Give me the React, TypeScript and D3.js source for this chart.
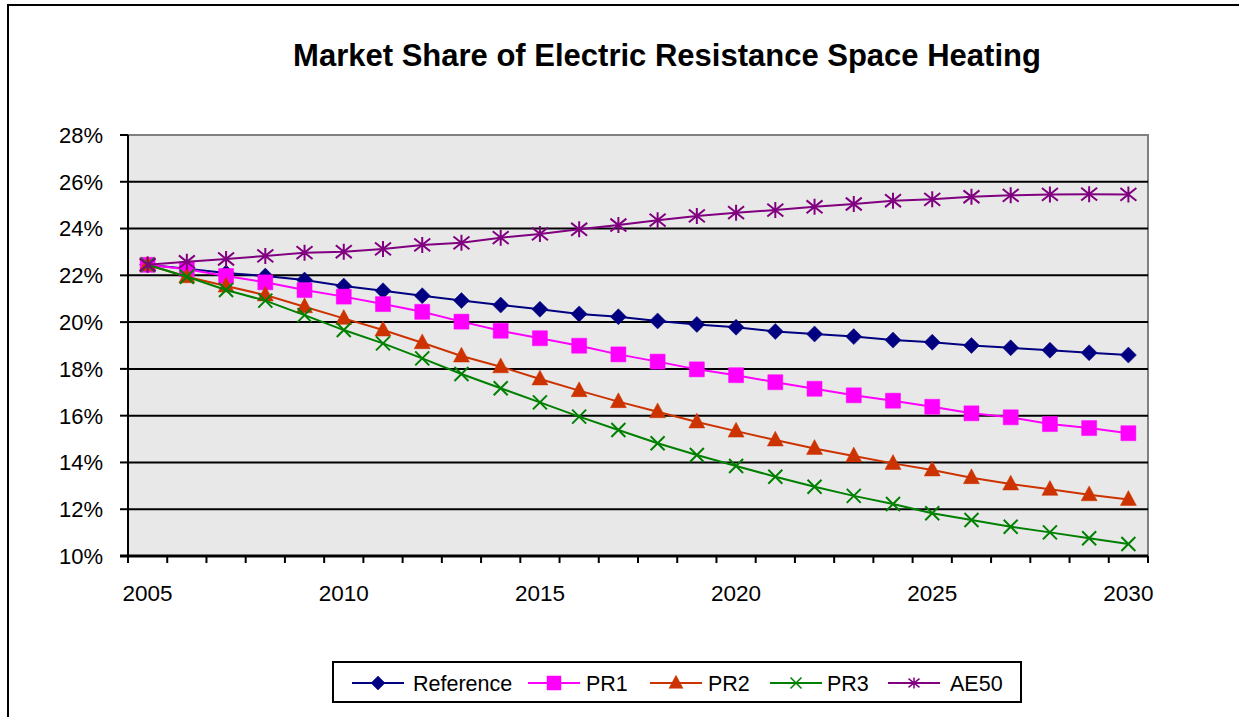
import React from "react";
import * as d3 from "d3";

// categories
const years = [
  2005, 2006, 2007, 2008, 2009, 2010, 2011, 2012, 2013, 2014, 2015, 2016, 2017,
  2018, 2019, 2020, 2021, 2022, 2023, 2024, 2025, 2026, 2027, 2028, 2029, 2030,
];
const yearLabels = [2005, 2010, 2015, 2020, 2025, 2030];
const yTicks = [10, 12, 14, 16, 18, 20, 22, 24, 26, 28];

// market share, %
const reference = [22.45, 22.28, 22.1, 21.97, 21.8, 21.54, 21.34, 21.13, 20.92, 20.73, 20.55, 20.35, 20.23, 20.05, 19.9, 19.78, 19.6, 19.49, 19.38, 19.23, 19.14, 19.0, 18.9, 18.8, 18.69, 18.59];
const pr1 = [22.45, 22.26, 21.97, 21.7, 21.37, 21.09, 20.77, 20.44, 20.02, 19.63, 19.31, 18.99, 18.62, 18.31, 17.98, 17.73, 17.43, 17.15, 16.87, 16.64, 16.38, 16.1, 15.93, 15.64, 15.47, 15.25];
const pr2 = [22.45, 21.94, 21.54, 21.16, 20.66, 20.16, 19.66, 19.12, 18.55, 18.09, 17.57, 17.07, 16.6, 16.17, 15.73, 15.34, 14.96, 14.6, 14.28, 13.96, 13.68, 13.35, 13.08, 12.85, 12.62, 12.42];
const pr3 = [22.45, 21.94, 21.37, 20.92, 20.3, 19.66, 19.09, 18.45, 17.78, 17.17, 16.57, 15.96, 15.39, 14.82, 14.32, 13.85, 13.39, 12.96, 12.57, 12.22, 11.83, 11.54, 11.25, 11.01, 10.76, 10.51];
const ae50 = [22.45, 22.58, 22.7, 22.83, 22.97, 23.01, 23.13, 23.3, 23.39, 23.61, 23.77, 23.97, 24.15, 24.36, 24.54, 24.68, 24.79, 24.93, 25.05, 25.19, 25.25, 25.36, 25.42, 25.46, 25.47, 25.46];

const series = [
  { name: "Reference", values: reference, color: "#000080", marker: "diamond" },
  { name: "PR1", values: pr1, color: "#FF00FF", marker: "square" },
  { name: "PR2", values: pr2, color: "#CC3300", marker: "triangle" },
  { name: "PR3", values: pr3, color: "#008000", marker: "x" },
  { name: "AE50", values: ae50, color: "#800080", marker: "asterisk" },
];

const font = "'Liberation Sans', Arial, sans-serif";
const W = 1239;
const H = 717;
const plot = { left: 128, right: 1148, top: 135, bottom: 556 };

// marker path centred on 0,0; r = half size
function markerPath(type: string, r: number) {
  if (type === "diamond") return `M0,${-r}L${r},0L0,${r}L${-r},0Z`;
  if (type === "square") return `M${-r},${-r}H${r}V${r}H${-r}Z`;
  if (type === "triangle")
    return `M0,${-r * 1.1}L${r},${r * 0.75}L${-r},${r * 0.75}Z`;
  if (type === "x") return `M${-r},${-r}L${r},${r}M${-r},${r}L${r},${-r}`;
  // asterisk: x plus vertical bar
  return `M${-r},${-r * 0.8}L${r},${r * 0.8}M${-r},${r * 0.8}L${r},${-r * 0.8}M0,${-r}V${r}`;
}

const filled = (t: string) => t === "diamond" || t === "square" || t === "triangle";

const markerSize: Record<string, number> = {
  diamond: 8,
  square: 7.5,
  triangle: 8,
  x: 7,
  asterisk: 8,
};

const legendItems = [
  { x: 352, text: 413 },
  { x: 528, text: 586 },
  { x: 650, text: 708 },
  { x: 770, text: 827 },
  { x: 888, text: 950 },
];

export default function App() {
  const xBand = d3
    .scaleBand<number>()
    .domain(years)
    .range([plot.left, plot.right])
    .padding(0);
  const xc = (yr: number) => (xBand(yr) as number) + xBand.bandwidth() / 2;
  const y = d3.scaleLinear().domain([10, 28]).range([plot.bottom, plot.top]);

  const line = d3
    .line<number>()
    .x((_, i) => xc(years[i]))
    .y((d) => y(d));

  const tickXs = years.map((yr) => xBand(yr) as number).concat([plot.right]);

  return (
    <svg
      width={W}
      height={H}
      style={{ position: "absolute", left: 0, top: 0, background: "#fff" }}
      fontFamily={font}
    >
      {/* outer chart border */}
      <rect x={8} y={5} width={W + 20} height={H + 20} fill="none" stroke="#000" strokeWidth={2} />

      <text x={667} y={66} textAnchor="middle" fontSize={31} fontWeight="bold">
        Market Share of Electric Resistance Space Heating
      </text>

      {/* plot area */}
      <rect
        x={plot.left}
        y={plot.top}
        width={plot.right - plot.left}
        height={plot.bottom - plot.top}
        fill="#E8E8E8"
        stroke="#808080"
        strokeWidth={2}
      />

      {/* gridlines */}
      {yTicks.slice(1, -1).map((t) => (
        <line key={t} x1={plot.left} x2={plot.right} y1={y(t)} y2={y(t)} stroke="#000" strokeWidth={2} />
      ))}

      {/* y axis */}
      <line x1={plot.left} x2={plot.left} y1={plot.top} y2={plot.bottom} stroke="#000" strokeWidth={2} />
      {yTicks.map((t) => (
        <g key={t}>
          <line x1={plot.left - 8} x2={plot.left} y1={y(t)} y2={y(t)} stroke="#000" strokeWidth={2} />
          <text x={103} y={y(t)} dy="0.36em" textAnchor="end" fontSize={22}>
            {t}%
          </text>
        </g>
      ))}

      {/* x axis */}
      <line x1={plot.left - 8} x2={plot.right} y1={plot.bottom} y2={plot.bottom} stroke="#000" strokeWidth={3} />
      {tickXs.map((tx, i) => (
        <line key={i} x1={tx} x2={tx} y1={plot.bottom} y2={plot.bottom + 7} stroke="#000" strokeWidth={2} />
      ))}
      {yearLabels.map((yr) => (
        <text key={yr} x={xc(yr)} y={601} textAnchor="middle" fontSize={22.5}>
          {yr}
        </text>
      ))}

      {/* series */}
      {series.map((s) => (
        <g key={s.name}>
          <path d={line(s.values) || ""} fill="none" stroke={s.color} strokeWidth={2} />
          {s.values.map((v, i) => (
            <path
              key={i}
              transform={`translate(${xc(years[i])},${y(v)})`}
              d={markerPath(s.marker, markerSize[s.marker])}
              fill={filled(s.marker) ? s.color : "none"}
              stroke={s.color}
              strokeWidth={filled(s.marker) ? 0.5 : 2}
            />
          ))}
        </g>
      ))}

      {/* legend */}
      <rect x={333} y={662} width={688} height={40} fill="#fff" stroke="#000" strokeWidth={2} />
      {series.map((s, i) => {
        const it = legendItems[i];
        const cx = it.x + 26;
        return (
          <g key={s.name}>
            <line x1={it.x} x2={it.x + 52} y1={683} y2={683} stroke={s.color} strokeWidth={2} />
            <path
              transform={`translate(${cx},683)`}
              d={markerPath(s.marker, s.marker === "x" || s.marker === "asterisk" ? 5.5 : 7)}
              fill={filled(s.marker) ? s.color : "none"}
              stroke={s.color}
              strokeWidth={filled(s.marker) ? 0.5 : 1.5}
            />
            <text x={it.text} y={683} dy="0.36em" fontSize={21.5}>
              {s.name}
            </text>
          </g>
        );
      })}
    </svg>
  );
}
